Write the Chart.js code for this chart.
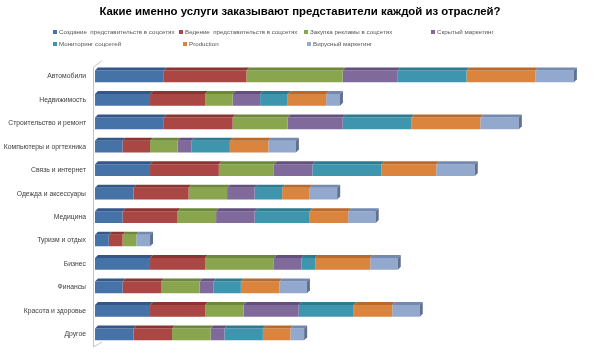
<!DOCTYPE html>
<html>
<head>
<meta charset="utf-8">
<script src="https://cdn.jsdelivr.net/npm/chart.js@4/dist/chart.umd.min.js"></script>
<style>
html,body{margin:0;padding:0;background:#fff;}
#wrap{width:600px;height:354px;position:relative;}
</style>
</head>
<body>
<div id="wrap"><canvas id="chart" width="600" height="354"></canvas></div>
<script>
// ================================
// Data
// ================================

const categories=["Автомобили","Недвижимость","Строительство и ремонт","Компьютеры и оргтехника","Связь и интернет","Одежда и аксессуары","Медицина","Туризм и отдых","Бизнес","Финансы","Красота и здоровье","Другое"];

const seriesNames=["Создание  представительств в соцсетях","Ведение  представительств в соцсетях","Закупка рекламы в соцсетях","Скрытый маркетинг","Мониторинг соцсетей","Production","Вирусный маркетинг"];

const sozdanie=[5,4,5,2,4,2.8,2,1,4,2,4,2.8];
const vedenie=[6,4,5,2,5,4,4,1,4,2.8,4,2.8];
const zakupka=[7,2,4,2,4,2.8,2.8,1,5,2.8,2.8,2.8];
const skrytyi=[4,2,4,1,2.8,2,2.8,0,2,1,4,1];
const monitoring=[5,2,5,2.8,5,2,4,0,1,2,4,2.8];
const production=[5,2.8,5,2.8,4,2,2.8,0,4,2.8,2.8,2];
const virusnyi=[2.8,1,2.8,2,2.8,2,2,1,2,2,2,1];

const seriesValues=[sozdanie,vedenie,zakupka,skrytyi,monitoring,production,virusnyi];

// ================================
// Styles
// ================================

const colors=["#4572A7","#AA4643","#89A54E","#80699B","#3D96AE","#DB843D","#92A8CD"];
const topColors=["#34578a","#8a3532","#6d873b","#64507e","#2e7a8f","#b86a2c","#7489b0"];
const sideColors=["#2d4b78","#782d2b","#5c7332","#54436b","#27687a","#9c5a25","#5f7090"];

const legendPos=[[53,32],[179,32],[304,32],[431,32],[53,44],[183,44],[307,44]];

const DEPTH=3;

// ================================
// 3D bar faces + wall
// ================================

const bars3d={
id:"bars3d",
beforeDatasetsDraw(chart){
const ctx=chart.ctx;
const a=chart.chartArea;
ctx.save();
ctx.strokeStyle="#c4c4c4";
ctx.lineWidth=1;
ctx.beginPath();
ctx.moveTo(a.left+7,a.top-4);
ctx.lineTo(a.left-1.5,a.top+2.5);
ctx.lineTo(a.left-1.5,a.bottom+1);
ctx.lineTo(a.left+7,a.bottom-4);
ctx.stroke();
ctx.restore();
},
afterDatasetsDraw(chart){
const ctx=chart.ctx;
const n=chart.data.labels.length;
ctx.save();
for(let i=0;i<n;i++){
let last=-1;
chart.data.datasets.forEach((ds,d)=>{
const el=chart.getDatasetMeta(d).data[i];
const p=el.getProps(["x","y","base","height"],true);
if(p.x-p.base<0.5)return;
last=d;
const top=p.y-p.height/2;
ctx.fillStyle=topColors[d];
ctx.beginPath();
ctx.moveTo(p.base,top);
ctx.lineTo(p.x,top);
ctx.lineTo(p.x+DEPTH,top-DEPTH);
ctx.lineTo(p.base+DEPTH,top-DEPTH);
ctx.closePath();
ctx.fill();
});
if(last>=0){
const el=chart.getDatasetMeta(last).data[i];
const p=el.getProps(["x","y","base","height"],true);
const top=p.y-p.height/2;
const bottom=p.y+p.height/2;
ctx.fillStyle=sideColors[last];
ctx.beginPath();
ctx.moveTo(p.x,top);
ctx.lineTo(p.x+DEPTH,top-DEPTH);
ctx.lineTo(p.x+DEPTH,bottom-DEPTH);
ctx.lineTo(p.x,bottom);
ctx.closePath();
ctx.fill();
}
}
ctx.restore();
}
};

// ================================
// Grid legend (Excel style)
// ================================

const gridLegend={
id:"gridLegend",
afterDraw(chart){
const ctx=chart.ctx;
ctx.save();
ctx.font="6.2px 'Liberation Sans', Arial, sans-serif";
ctx.textBaseline="middle";
chart.data.datasets.forEach((ds,d)=>{
const pos=legendPos[d];
ctx.fillStyle=colors[d];
ctx.fillRect(pos[0],pos[1]-2,4,4);
ctx.fillStyle="#555555";
ctx.fillText(ds.label,pos[0]+6,pos[1]);
});
ctx.restore();
}
};

// ================================
// Chart
// ================================

const datasets=seriesNames.map((name,i)=>({
label:name,
data:seriesValues[i],
backgroundColor:colors[i],
borderWidth:0,
categoryPercentage:1,
barPercentage:0.5
}));

new Chart(document.getElementById("chart"),{
type:"bar",
data:{
labels:categories,
datasets:datasets
},
options:{
indexAxis:"y",
responsive:false,
animation:false,
layout:{
padding:{left:0,right:0,top:0,bottom:8}
},
plugins:{
legend:{display:false},
tooltip:{enabled:false},
title:{
display:true,
text:"Какие именно услуги заказывают представители каждой из отраслей?",
color:"#000",
font:{family:"'Liberation Sans', Arial, sans-serif",size:11.4,weight:"bold"},
padding:{top:5,bottom:46}
}
},
scales:{
x:{
stacked:true,
display:false,
min:0,
max:36.7
},
y:{
stacked:true,
grid:{display:false,drawTicks:false},
border:{display:false},
afterFit(scale){
scale.width=95;
scale.paddingTop=0;
scale.paddingBottom=0;
},
ticks:{
padding:9,
color:"#404040",
font:{family:"'Liberation Sans', Arial, sans-serif",size:6.8}
}
}
}
},
plugins:[bars3d,gridLegend]
});
</script>
</body>
</html>
